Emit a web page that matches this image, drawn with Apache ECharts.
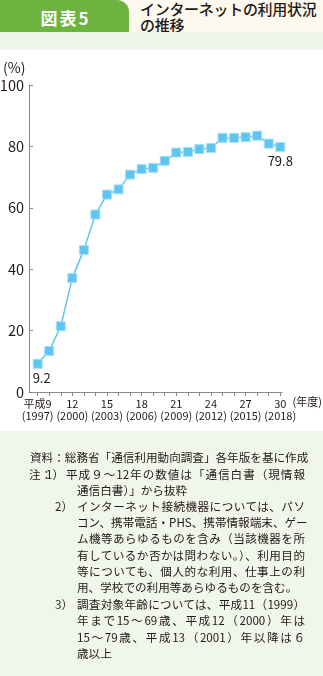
<!DOCTYPE html>
<html><head><meta charset="utf-8">
<script src="https://cdn.jsdelivr.net/npm/echarts@6/dist/echarts.min.js"></script>
<style>
html,body{margin:0;padding:0;width:323px;height:676px;overflow:hidden;background:#fff;font-family:"Noto Sans CJK JP","Noto Sans",sans-serif;color:#231815}
.bg{position:absolute;left:0;width:323px}
#cream{top:0;height:32px;background:#fdf9ef}
#tab{position:absolute;left:0;top:0;width:129px;height:32px;background:#6cb33f;border-top-right-radius:12px;color:#fff;font-weight:bold;font-size:17px;letter-spacing:2px;line-height:32px;text-align:center;padding-top:2px;padding-left:2px;box-sizing:border-box}
#title{position:absolute;left:140px;top:1px;font-size:15px;line-height:15.5px;font-weight:500;color:#231815;letter-spacing:-0.3px}
#band{top:32px;height:18px;background:#eff5ea}
#notesbg{top:431px;height:245px;background:#f1f6ec}
#chart{position:absolute;left:0;top:0;width:323px;height:676px}
.ln{position:absolute;font-size:11.6px;line-height:16px;white-space:nowrap;color:#231815}
.full{text-align:justify;text-align-last:justify}
</style></head>
<body>
<div class="bg" id="cream"></div>
<div id="tab">図表5</div>
<div id="title">インターネットの利用状況<br>の推移</div>
<div class="bg" id="band"></div>
<div class="bg" id="notesbg"></div>
<div id="chart"></div>
<div id="notes"></div>
<script>
// ---- data ----
const years = [9,10,11,12,13,14,15,16,17,18,19,20,21,22,23,24,25,26,27,28,29,30];
const usageRate = [9.2,13.4,21.4,37.1,46.3,57.8,64.3,66.0,70.8,72.6,73.0,75.3,78.0,78.2,79.1,79.5,82.8,82.8,83.0,83.5,80.9,79.8];
const labeledYears = [9,12,15,18,21,24,27,30];
const labelText = {9:'平成9\n(1997)',12:'12\n(2000)',15:'15\n(2003)',18:'18\n(2006)',21:'21\n(2009)',24:'24\n(2012)',27:'27\n(2015)',30:'30\n(2018)'};
const yTicks = [0,20,40,60,80,100];
const notesLines = [
  ['資料：総務省「通信利用動向調査」各年版を基に作成',30,457,true],
  ['注：',29,474,false],
  ['1）',46,474,false],
  ['平成９～12年の数値は「通信白書（現情報',66,474,true],
  ['通信白書）」から抜粋',77,490,false],
  ['2）',55,506,false],
  ['インターネット接続機器については、パソ',77,506,true],
  ['コン、携帯電話・PHS、携帯情報端末、ゲー',77,522,true],
  ['ム機等あらゆるものを含み（当該機器を所',77,538,true],
  ['有しているか否かは問わない。）、利用目的',77,555,true],
  ['等についても、個人的な利用、仕事上の利',77,571,true],
  ['用、学校での利用等あらゆるものを含む。',77,587,false],
  ['3）',55,604,false],
  ['調査対象年齢については、平成11（1999）',77,604,true],
  ['年まで15～69歳、平成12（2000）年は',77,620,true],
  ['15～79歳、平成13（2001）年以降は６',77,637,true],
  ['歳以上',77,653,false]
];
// ---- notes ----
const notes = document.getElementById('notes');
notesLines.forEach(([t,x,y,full])=>{
  const d=document.createElement('div');
  d.className='ln'+(full?' full':'');
  d.textContent=t;
  d.style.left=x+'px';
  d.style.top=(y-8)+'px';
  if(full) d.style.width=(305-x)+'px';
  notes.appendChild(d);
});
// ---- chart ----
const chart = echarts.init(document.getElementById('chart'));
const font = '"Noto Sans CJK JP","Noto Sans",sans-serif';
const axisColor = '#8a8a8a';
const txt = '#231815';
const lastIdx = usageRate.length-1;
chart.setOption({
  animation:false,
  textStyle:{fontFamily:font,color:txt},
  grid:{left:29,right:41,top:85,bottom:284,outerBoundsMode:'none'},
  xAxis:{
    type:'value',min:8.25,max:30.15,
    axisLine:{lineStyle:{color:axisColor,width:1}},
    axisTick:{show:true,length:4,lineStyle:{color:axisColor},customValues:years},
    axisLabel:{customValues:labeledYears,formatter:v=>labelText[v],fontSize:11,lineHeight:12,color:txt,margin:6},
    splitLine:{show:false}
  },
  yAxis:{
    type:'value',min:0,max:100,interval:20,
    axisLine:{show:true,lineStyle:{color:axisColor,width:1}},
    axisTick:{show:true,inside:true,length:4,lineStyle:{color:axisColor}},
    axisLabel:{fontSize:14.5,color:txt,margin:5,customValues:yTicks},
    splitLine:{show:false}
  },
  graphic:[
    {type:'text',left:3,top:61,style:{text:'(%)',font:'14px '+font,fill:txt}},
    {type:'text',right:1,top:396,style:{text:'(年度)',font:'11px '+font,fill:txt}}
  ],
  series:[{
    type:'line',
    data:years.map((y,i)=>{
      const item={value:[y,usageRate[i]]};
      if(i===0) item.label={show:true,offset:[4,0]};
      else if(i===lastIdx) item.label={show:true};
      return item;
    }),
    symbol:'rect',symbolSize:9,
    lineStyle:{color:'#5ec4f0',width:1.5},
    itemStyle:{color:'#5ec4f0',borderColor:'#a8def6',borderWidth:1},
    label:{
      show:false,position:'bottom',distance:3,fontSize:13,color:txt,
      formatter:p=>p.value[1].toFixed(1)
    }
  }]
});
</script>
</body></html>
